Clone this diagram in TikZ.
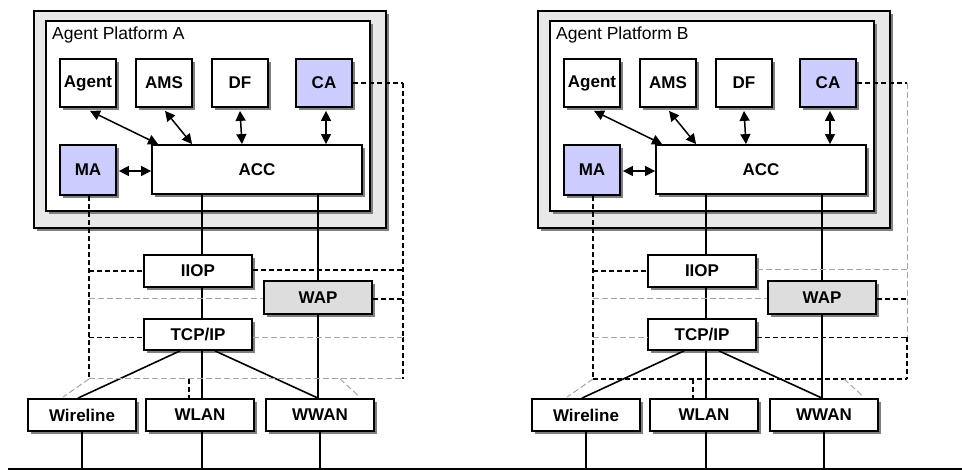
\documentclass[tikz,border=0pt]{standalone}
\usepackage{fontspec}
\setmainfont{Liberation Sans}
\usetikzlibrary{arrows.meta,shadows,calc}
\definecolor{lav}{HTML}{CCCCFF}
\definecolor{wapg}{HTML}{DDDDDD}
\definecolor{platg}{HTML}{E8E8E8}
\definecolor{shadc}{HTML}{7F7F7F}
\tikzset{
  shd/.style={drop shadow={fill=shadc, opacity=1, shadow xshift=3pt, shadow yshift=-3pt}},
  frame/.style={draw, line width=1.8pt, rectangle, inner sep=0pt, shd},
  box/.style={frame, fill=white, font=\bfseries\fontsize{17}{17}\selectfont},
  sbox/.style={box, minimum width=56, minimum height=48},
  nbox/.style={box, minimum width=108, minimum height=32},
  arr/.style={line width=1.5pt, {Triangle[length=10pt,width=10pt]}-{Triangle[length=10pt,width=10pt]}},
  solid line/.style={line width=1.6pt},
  dk/.style={draw=black, line width=1.3pt, dash pattern=on 5pt off 3pt},
  lt/.style={draw=black!35, line width=1pt, dash pattern=on 6pt off 3pt},
}
% #1 suffix, #2 letter, #3 xshift, #4 iiop-right, #5 wap-left, #6 tcp-left, #7 tcp-right, #8 bottom, #9 right vertical upper
\newcommand\fipaplatform[9]{%
\begin{scope}[xshift=#3]
  \node[frame, fill=platg, minimum width=352, minimum height=217] (outer#1) at (210,119.5) {};
  \node[frame, fill=white, minimum width=324, minimum height=190] (inner#1) at (208,116) {};
  \node[anchor=base west, inner sep=0pt, font=\fontsize{17.5}{17.5}\selectfont] (label#1) at (52,39.5) {Agent Platform #2};
  \node[sbox] (agent#1) at (88,83) {Agent};
  \node[sbox] (ams#1) at (164,83) {AMS};
  \node[sbox] (df#1) at (240,83) {DF};
  \node[sbox, fill=lav] (ca#1) at (324,83) {CA};
  \node[sbox, fill=lav, minimum height=50] (ma#1) at (88,170) {MA};
  \node[box, minimum width=210, minimum height=49] (acc#1) at (257,169.5) {ACC};
  \node[nbox] (iiop#1) at (198,271) {IIOP};
  \node[nbox, fill=wapg, minimum height=33] (wap#1) at (318,297.5) {WAP};
  \node[nbox, minimum height=31] (tcp#1) at (198,334.5) {TCP/IP};
  \node[nbox] (wire#1) at (82,415) {Wireline};
  \node[nbox] (wlan#1) at (200,415) {WLAN};
  \node[nbox] (wwan#1) at (320,415) {WWAN};
  \coordinate (mid#1) at (202,0);
  \coordinate (ml#1) at (89,0);
  \coordinate (mr#1) at (403,0);
  \coordinate (mb#1) at (0,379);
  % arrows
  \draw[arr] ($(agent#1.south)+(2,3)$) -- ($(acc#1.north west)+(7,0)$);
  \draw[arr] ($(ams#1.south)+(1,3)$) -- ($(acc#1.north west)+(41,0)$);
  \draw[arr] ($(df#1.south)+(0,3)$) -- ($(df#1.south |- acc#1.north)+(2,0)$);
  \draw[arr] ($(ca#1.south)+(2,3)$) -- ($(ca#1.south |- acc#1.north)+(2,0)$);
  \draw[arr] ($(ma#1.east)+(2,1)$) -- ($(ma#1.east -| acc#1.west)+(0,1)$);
  % solid connections
  \draw[solid line] (acc#1.south -| mid#1) -- (iiop#1.north -| mid#1);
  \draw[solid line] (iiop#1.south -| mid#1) -- (tcp#1.north -| mid#1);
  \draw[solid line] (tcp#1.south -| mid#1) -- (wlan#1.north -| mid#1);
  \draw[solid line] (acc#1.south -| wap#1.north) -- (wap#1.north);
  \draw[solid line] (wap#1.south) -- (wap#1.south |- wwan#1.north);
  \draw[solid line] ($(tcp#1.south)+(-18,0)$) -- ($(wire#1.north)+(-4,0)$);
  \draw[solid line] ($(tcp#1.south)+(17,0)$) -- ($(wwan#1.north)+(-2,0)$);
  \draw[solid line] (wire#1.south) -- (wire#1.south |- base);
  \draw[solid line] (wlan#1.south -| mid#1) -- (mid#1 |- base);
  \draw[solid line] (wwan#1.south) -- (wwan#1.south |- base);
  % dashed management network
  \draw[dk] (ma#1.south -| ml#1) -- (ml#1 |- mb#1);
  \draw[dk] (ca#1.east) -- (ca#1.east -| mr#1);
  \draw[#9] (ca#1.east -| mr#1) -- ($(mr#1 |- tcp#1.east)+(0,3)$);
  \draw[dk] ($(mr#1 |- tcp#1.east)+(0,3)$) -- (mr#1 |- mb#1);
  \draw[dk] (ml#1 |- iiop#1.west) -- (iiop#1.west);
  \draw[#4] ($(iiop#1.east)+(0,-1)$) -- ($(mr#1 |- iiop#1.east)+(0,-1)$);
  \draw[#5] ($(ml#1 |- wap#1.west)+(0,1.5)$) -- ($(wap#1.west)+(0,1.5)$);
  \draw[dk] ($(wap#1.east)+(0,1.5)$) -- ($(mr#1 |- wap#1.east)+(0,1.5)$);
  \draw[#6] ($(ml#1 |- tcp#1.west)+(0,3)$) -- ($(tcp#1.west)+(0,3)$);
  \draw[#7] ($(tcp#1.east)+(0,3)$) -- ($(mr#1 |- tcp#1.east)+(0,3)$);
  \draw[#8] (ml#1 |- mb#1) -- (mr#1 |- mb#1);
  \draw[lt] (ml#1 |- mb#1) -- ($(wire#1.north)+(-19,-1)$);
  \draw[dk] ($(wlan#1.north |- mb#1)+(-11,0)$) -- ($(wlan#1.north)+(-11,0)$);
  \draw[lt] (340,379) -- ($(wwan#1.north)+(40,-1)$);
\end{scope}}
\begin{document}
\begin{tikzpicture}[x=1pt, y=-1pt]
  \path[use as bounding box] (0,0) rectangle (962,470);
  \coordinate (base) at (0,469);
  \coordinate (bl) at (8,469);
  \coordinate (br) at (962,469);
  \fipaplatform{A}{A}{0pt}{dk}{lt}{dk}{lt}{lt}{dk}
  \fipaplatform{B}{B}{504pt}{lt}{lt}{lt}{dk}{dk}{lt}
  \draw[solid line] (bl) -- (br);
\end{tikzpicture}
\end{document}
